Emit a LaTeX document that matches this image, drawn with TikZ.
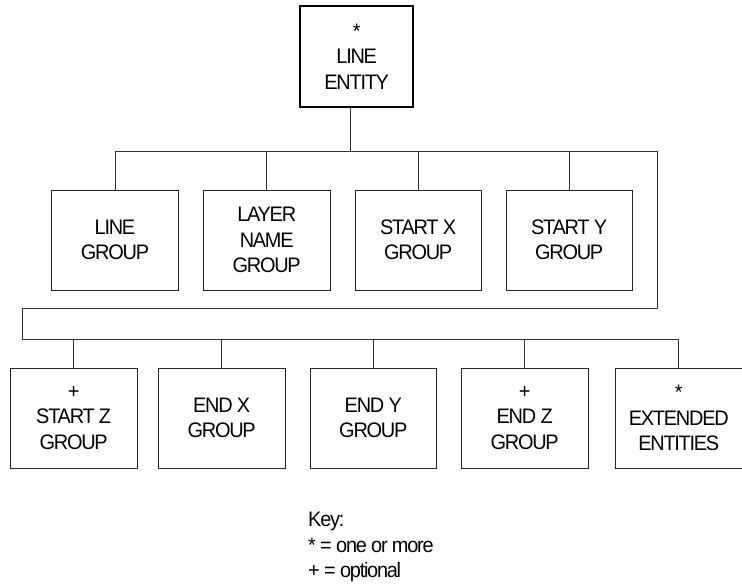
\documentclass[tikz,border=0pt]{standalone}
\usepackage{fontspec}
\setmainfont{Liberation Sans}[FakeStretch=0.95,LetterSpace=-6]
\begin{document}
\begin{tikzpicture}[x=1pt,y=-1pt,
  every node/.style={font=\fontsize{21}{25.5}\selectfont},
  box/.style={draw=black!85, line width=0.9pt, minimum width=126.5pt, minimum height=100pt, inner sep=0pt, align=center},
  topbox/.style={box, draw=black, line width=1.8pt, minimum width=113pt, minimum height=100.5pt},
  conn/.style={draw=black!80, line width=0.7pt}]
\useasboundingbox (0,0) rectangle (742,587);
% top
\node[topbox] (top) at (356.7,56.4) {*\\LINE\\ENTITY};
% row 1
\node[box] (b1) at (115,240) {LINE\\GROUP};
\node[box] (b2) at (266.7,240) {LAYER\\NAME\\GROUP};
\node[box] (b3) at (418.2,240) {START X\\GROUP};
\node[box] (b4) at (569.2,240) {START Y\\GROUP};
% row 2
\node[box] (c1) at (73.7,418) {+\\START Z\\GROUP};
\node[box] (c2) at (221.7,418) {END X\\GROUP};
\node[box] (c3) at (373.3,418) {END Y\\GROUP};
\node[box] (c4) at (524.7,418) {+\\END Z\\GROUP};
\node[box] (c5) at (678.8,418) {*\\EXTENDED\\ENTITIES};
% key
\node[align=left, anchor=west, inner sep=0pt] (key) at (308,547) {Key:\\* = one or more\\+ = optional};
% bus coordinates
\coordinate (j0) at (350,151.7);
\coordinate (r1) at (657.7,151.7);
\coordinate (r2) at (657.7,308.5);
\coordinate (l2) at (22.7,308.5);
\coordinate (l3) at (22.7,339.3);
% connectors
\draw[conn] (j0) -- (j0 |- top.south);
\draw[conn] (b1.north) |- (r1) -- (r2) -- (l2) -- (l3) -| (c5.north);
\foreach \n in {b2,b3,b4}{\draw[conn] (\n.north) -- (\n.north |- r1);}
\foreach \n in {c1,c2,c3,c4}{\draw[conn] (\n.north) -- (\n.north |- l3);}
\end{tikzpicture}
\end{document}
